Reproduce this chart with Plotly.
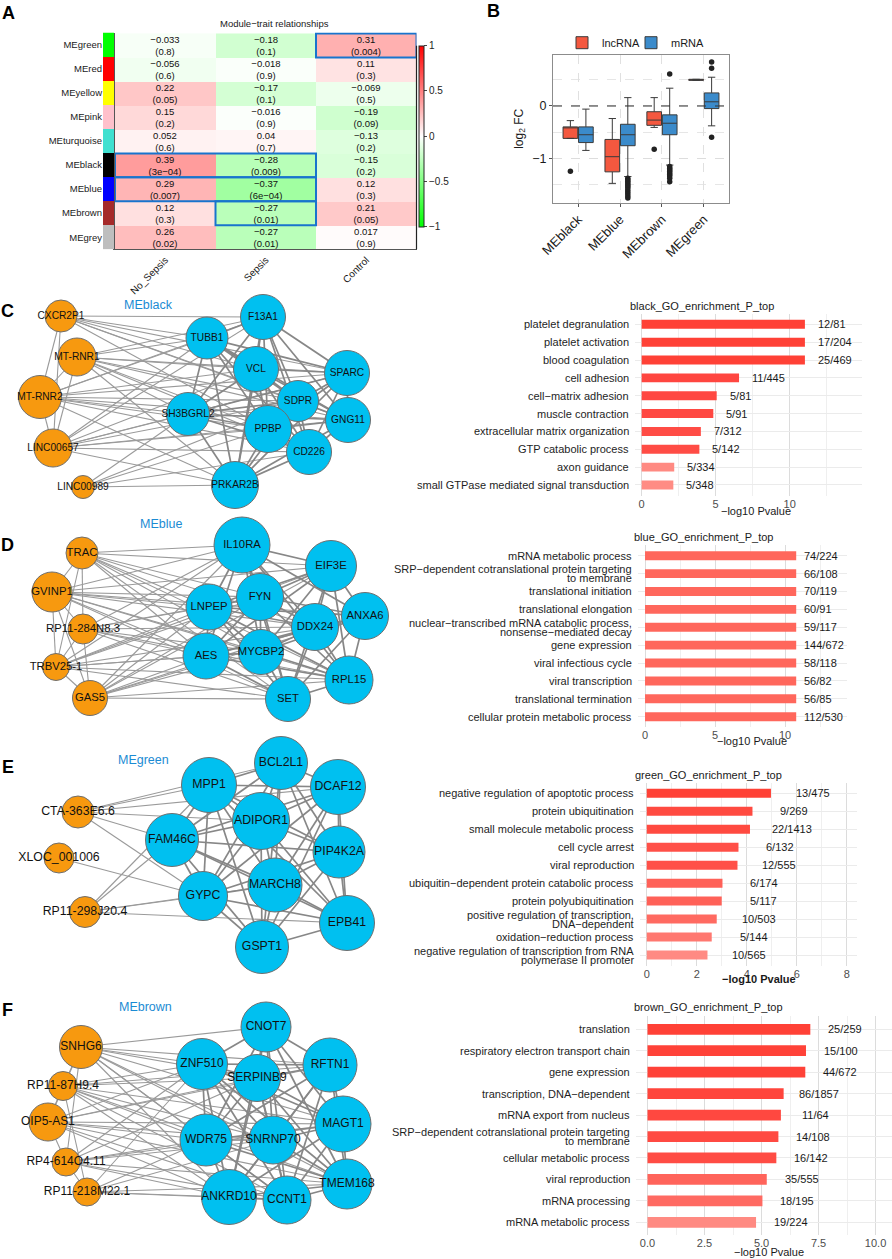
import plotly.graph_objects as go

W, H = 892, 1259
FONT = "Liberation Sans, Arial, Helvetica, sans-serif"
MINUS = "\u2212"

# ---------------- Panel A data ----------------
modules = ["MEgreen", "MEred", "MEyellow", "MEpink", "MEturquoise", "MEblack", "MEblue", "MEbrown", "MEgrey"]
module_colors = ["#00FF00", "#FF0000", "#FFFF00", "#FFC0CB", "#40E0D0", "#000000", "#0000FF", "#A52A2A", "#BEBEBE"]
traits = ["No_Sepsis", "Sepsis", "Control"]
cor_no_sepsis = [-0.033, -0.056, 0.22, 0.15, 0.052, 0.39, 0.29, 0.12, 0.26]
cor_sepsis = [-0.18, -0.018, -0.17, -0.016, 0.04, -0.28, -0.37, -0.27, -0.27]
cor_control = [0.31, 0.11, -0.069, -0.19, -0.13, -0.15, 0.12, 0.21, 0.017]
p_no_sepsis = ["0.8", "0.6", "0.05", "0.2", "0.6", "3e-04", "0.007", "0.3", "0.02"]
p_sepsis = ["0.1", "0.9", "0.1", "0.9", "0.7", "0.009", "6e-04", "0.01", "0.01"]
p_control = ["0.004", "0.3", "0.5", "0.09", "0.2", "0.2", "0.3", "0.05", "0.9"]
highlights = [("MEgreen", "Control", "Control"), ("MEblack", "No_Sepsis", "Sepsis"),
              ("MEblue", "No_Sepsis", "Sepsis"), ("MEbrown", "Sepsis", "Sepsis")]

# ---------------- Panel B data ----------------
b_modules = ["MEblack", "MEblue", "MEbrown", "MEgreen"]
lnc_q1 = [-0.62, -1.26, -0.37, 0.49]
lnc_med = [-0.41, -0.97, -0.27, 0.50]
lnc_q3 = [-0.40, -0.64, -0.11, 0.51]
lnc_lo = [-0.62, -1.48, -0.41, 0.49]
lnc_hi = [-0.28, -0.24, 0.16, 0.51]
mrna_q1 = [-0.70, -0.76, -0.55, -0.05]
mrna_med = [-0.55, -0.55, -0.33, 0.08]
mrna_q3 = [-0.40, -0.35, -0.17, 0.25]
mrna_lo = [-0.85, -1.35, -1.13, -0.38]
mrna_hi = [-0.06, 0.16, 0.34, 0.55]
lnc_outliers = {"MEblack": [-1.25], "MEbrown": [-0.83]}
mrna_outliers = {"MEblue": [-1.38, -1.41, -1.44, -1.47, -1.50, -1.53, -1.56, -1.60, -1.64, -1.68, -1.72, -1.76],
                 "MEbrown": [0.61, -1.16, -1.19, -1.22, -1.25, -1.28, -1.31, -1.34, -1.38, -1.45],
                 "MEgreen": [0.84, 0.72, -0.60]}

# ---------------- Networks (name, type, layout x, layout y, node diameter) ----------------
net_C = [("CXCR2P1", "lnc", 61, 316, 32), ("MT-RNR1", "lnc", 77, 357, 38), ("MT-RNR2", "lnc", 40, 397, 43),
         ("LINC00657", "lnc", 53, 448, 38), ("LINC00989", "lnc", 83, 487, 23),
         ("TUBB1", "m", 207, 338, 42), ("F13A1", "m", 263, 317, 45), ("VCL", "m", 256, 369, 45),
         ("SPARC", "m", 347, 373, 45), ("SDPR", "m", 298, 401, 41), ("GNG11", "m", 348, 420, 45),
         ("SH3BGRL2", "m", 188, 414, 43), ("PPBP", "m", 268, 429, 47), ("CD226", "m", 309, 452, 45),
         ("PRKAR2B", "m", 235, 485, 47)]
edges_C = {
    "CXCR2P1": "MT-RNR2 LINC00657 TUBB1 F13A1 VCL SPARC SDPR PPBP GNG11",
    "MT-RNR1": "MT-RNR2 LINC00657 TUBB1 F13A1 VCL SPARC SDPR GNG11 SH3BGRL2 PPBP CD226 PRKAR2B",
    "MT-RNR2": "LINC00657 TUBB1 F13A1 VCL SPARC SDPR GNG11 SH3BGRL2 PPBP CD226 PRKAR2B",
    "LINC00657": "TUBB1 F13A1 VCL SPARC SDPR GNG11 SH3BGRL2 PPBP CD226 PRKAR2B",
    "LINC00989": "SH3BGRL2 PPBP CD226 PRKAR2B SDPR",
    "TUBB1": "F13A1 VCL SPARC SDPR GNG11 SH3BGRL2 PPBP CD226 PRKAR2B",
    "F13A1": "VCL SPARC SDPR GNG11 SH3BGRL2 PPBP CD226 PRKAR2B",
    "VCL": "SPARC SDPR GNG11 SH3BGRL2 PPBP CD226 PRKAR2B",
    "SPARC": "SDPR GNG11 SH3BGRL2 PPBP CD226 PRKAR2B",
    "SDPR": "GNG11 SH3BGRL2 PPBP CD226 PRKAR2B",
    "GNG11": "SH3BGRL2 PPBP CD226 PRKAR2B",
    "SH3BGRL2": "PPBP CD226 PRKAR2B",
    "PPBP": "CD226 PRKAR2B",
    "CD226": "PRKAR2B",
}
net_D = [("TRAC", "lnc", 82, 553, 32), ("GVINP1", "lnc", 52, 592, 40), ("RP11-284N8.3", "lnc", 83, 629, 30),
         ("TRBV25-1", "lnc", 56, 667, 27), ("GAS5", "lnc", 90, 698, 35),
         ("IL10RA", "m", 242, 545, 56), ("EIF3E", "m", 331, 566, 51), ("LNPEP", "m", 209, 607, 46),
         ("FYN", "m", 260, 597, 47), ("DDX24", "m", 315, 627, 47), ("ANXA6", "m", 365, 616, 47),
         ("AES", "m", 206, 656, 46), ("MYCBP2", "m", 261, 652, 45), ("RPL15", "m", 349, 680, 48),
         ("SET", "m", 288, 699, 45)]
edges_D = {
    "TRAC": "GVINP1 RP11-284N8.3 TRBV25-1 IL10RA EIF3E LNPEP FYN DDX24 AES MYCBP2 RPL15 SET",
    "GVINP1": "RP11-284N8.3 TRBV25-1 GAS5 IL10RA EIF3E LNPEP FYN DDX24 ANXA6 AES MYCBP2 RPL15 SET",
    "RP11-284N8.3": "TRBV25-1 GAS5 IL10RA LNPEP FYN DDX24 AES MYCBP2 RPL15 SET",
    "TRBV25-1": "GAS5 IL10RA EIF3E LNPEP FYN DDX24 AES MYCBP2 RPL15 SET",
    "GAS5": "IL10RA EIF3E LNPEP FYN DDX24 ANXA6 AES MYCBP2 RPL15 SET",
    "IL10RA": "EIF3E LNPEP FYN DDX24 ANXA6 AES MYCBP2 RPL15 SET",
    "EIF3E": "LNPEP FYN DDX24 ANXA6 AES MYCBP2 RPL15 SET",
    "LNPEP": "FYN DDX24 ANXA6 AES MYCBP2 RPL15 SET",
    "FYN": "DDX24 ANXA6 AES MYCBP2 RPL15 SET",
    "DDX24": "ANXA6 AES MYCBP2 RPL15 SET",
    "ANXA6": "AES MYCBP2 RPL15 SET",
    "AES": "MYCBP2 RPL15 SET",
    "MYCBP2": "RPL15 SET",
    "RPL15": "SET",
}
net_E = [("CTA-363E6.6", "lnc", 78, 812, 32), ("XLOC_001006", "lnc", 59, 858, 30), ("RP11-298J20.4", "lnc", 85, 912, 31),
         ("MPP1", "m", 209, 785, 55), ("BCL2L1", "m", 281, 763, 53), ("DCAF12", "m", 338, 787, 55),
         ("ADIPOR1", "m", 261, 821, 57), ("FAM46C", "m", 172, 840, 53), ("PIP4K2A", "m", 339, 852, 52),
         ("MARCH8", "m", 275, 885, 54), ("GYPC", "m", 203, 896, 49), ("EPB41", "m", 347, 923, 55),
         ("GSPT1", "m", 262, 947, 53)]
edges_E = {
    "CTA-363E6.6": "MPP1 BCL2L1 ADIPOR1 DCAF12 FAM46C GYPC",
    "XLOC_001006": "GYPC",
    "RP11-298J20.4": "MPP1 FAM46C GYPC MARCH8 EPB41",
    "MPP1": "BCL2L1 DCAF12 ADIPOR1 FAM46C PIP4K2A MARCH8 GYPC EPB41 GSPT1",
    "BCL2L1": "DCAF12 ADIPOR1 FAM46C PIP4K2A MARCH8 GYPC EPB41 GSPT1",
    "DCAF12": "ADIPOR1 FAM46C PIP4K2A MARCH8 GYPC EPB41 GSPT1",
    "ADIPOR1": "FAM46C PIP4K2A MARCH8 GYPC EPB41 GSPT1",
    "FAM46C": "PIP4K2A MARCH8 GYPC EPB41 GSPT1",
    "PIP4K2A": "MARCH8 GYPC EPB41 GSPT1",
    "MARCH8": "GYPC EPB41 GSPT1",
    "GYPC": "EPB41 GSPT1",
    "EPB41": "GSPT1",
}
net_F = [("SNHG6", "lnc", 81, 1047, 43), ("RP11-87H9.4", "lnc", 63, 1086, 29), ("OIP5-AS1", "lnc", 48, 1122, 38),
         ("RP4-614O4.11", "lnc", 66, 1162, 28), ("RP11-218M22.1", "lnc", 87, 1192, 28),
         ("CNOT7", "m", 266, 1027, 50), ("ZNF510", "m", 202, 1064, 51), ("RFTN1", "m", 330, 1065, 54),
         ("SERPINB9", "m", 257, 1078, 47), ("MAGT1", "m", 343, 1124, 56), ("WDR75", "m", 206, 1140, 52),
         ("SNRNP70", "m", 273, 1140, 48), ("TMEM168", "m", 347, 1184, 50), ("ANKRD10", "m", 229, 1197, 55),
         ("CCNT1", "m", 287, 1200, 48)]
edges_F = {
    "SNHG6": "RP11-87H9.4 OIP5-AS1 RP4-614O4.11 CNOT7 ZNF510 RFTN1 SERPINB9 MAGT1 WDR75 SNRNP70 TMEM168 ANKRD10 CCNT1",
    "RP11-87H9.4": "OIP5-AS1 RP11-218M22.1 ZNF510 RFTN1 SERPINB9 MAGT1 WDR75 SNRNP70 TMEM168 ANKRD10 CCNT1",
    "OIP5-AS1": "RP4-614O4.11 ZNF510 RFTN1 SERPINB9 MAGT1 WDR75 SNRNP70 TMEM168 ANKRD10 CCNT1",
    "RP4-614O4.11": "RP11-218M22.1 ZNF510 SERPINB9 MAGT1 WDR75 SNRNP70 TMEM168 ANKRD10 CCNT1",
    "RP11-218M22.1": "ZNF510 WDR75 SNRNP70 TMEM168 ANKRD10 CCNT1",
    "CNOT7": "ZNF510 RFTN1 SERPINB9 MAGT1 WDR75 SNRNP70 TMEM168 ANKRD10 CCNT1",
    "ZNF510": "RFTN1 SERPINB9 MAGT1 WDR75 SNRNP70 TMEM168 ANKRD10 CCNT1",
    "RFTN1": "SERPINB9 MAGT1 WDR75 SNRNP70 TMEM168 ANKRD10 CCNT1",
    "SERPINB9": "MAGT1 WDR75 SNRNP70 TMEM168 ANKRD10 CCNT1",
    "MAGT1": "WDR75 SNRNP70 TMEM168 ANKRD10 CCNT1",
    "WDR75": "SNRNP70 TMEM168 ANKRD10 CCNT1",
    "SNRNP70": "TMEM168 ANKRD10 CCNT1",
    "TMEM168": "ANKRD10 CCNT1",
    "ANKRD10": "CCNT1",
}

# ---------------- GO bar data ----------------
go_C_terms = ["platelet degranulation", "platelet activation", "blood coagulation", "cell adhesion",
              "cell\u2212matrix adhesion", "muscle contraction", "extracellular matrix organization",
              "GTP catabolic process", "axon guidance", "small GTPase mediated signal transduction"]
go_C_vals = [11.03, 11.03, 11.03, 6.58, 5.07, 4.84, 4.00, 3.90, 2.20, 2.14]
go_C_counts = ["12/81", "17/204", "25/469", "11/445", "5/81", "5/91", "7/312", "5/142", "5/334", "5/348"]

go_D_terms = ["mRNA metabolic process", "SRP\u2212dependent cotranslational protein targeting<br>to membrane",
              "translational initiation", "translational elongation",
              "nuclear\u2212transcribed mRNA catabolic process,<br>nonsense\u2212mediated decay", "gene expression",
              "viral infectious cycle", "viral transcription", "translational termination",
              "cellular protein metabolic process"]
go_D_vals = [10.8, 10.8, 10.8, 10.8, 10.8, 10.8, 10.8, 10.8, 10.8, 10.8]
go_D_counts = ["74/224", "66/108", "70/119", "60/91", "59/117", "144/672", "58/118", "56/82", "56/85", "112/530"]

go_E_terms = ["negative regulation of apoptotic process", "protein ubiquitination", "small molecule metabolic process",
              "cell cycle arrest", "viral reproduction", "ubiquitin\u2212dependent protein catabolic process",
              "protein polyubiquitination", "positive regulation of transcription,<br>DNA\u2212dependent",
              "oxidation\u2212reduction process", "negative regulation of transcription from RNA<br>polymerase II promoter"]
go_E_vals = [4.97, 4.23, 4.13, 3.67, 3.63, 3.03, 3.00, 2.80, 2.60, 2.43]
go_E_counts = ["13/475", "9/269", "22/1413", "6/132", "12/555", "6/174", "5/117", "10/503", "5/144", "10/565"]

go_F_terms = ["translation", "respiratory electron transport chain", "gene expression", "transcription, DNA\u2212dependent",
              "mRNA export from nucleus", "SRP\u2212dependent cotranslational protein targeting<br>to membrane",
              "cellular metabolic process", "viral reproduction", "mRNA processing", "mRNA metabolic process"]
go_F_vals = [7.14, 6.95, 6.92, 5.97, 5.85, 5.74, 5.65, 5.23, 5.04, 4.76]
go_F_counts = ["25/259", "15/100", "44/672", "86/1857", "11/64", "14/108", "16/142", "35/555", "18/195", "19/224"]

# ---------------- styles ----------------
colors_C = ["#FF4136", "#FF4136", "#FF4136", "#FF4640", "#FF4842", "#FF4842", "#FF4C45", "#FF4C45", "#FF8A82", "#FF8C84"]
colors_D = ["#FF675C"] * 10
colors_E = ["#FF4136", "#FF4A40", "#FF4A40", "#FF5048", "#FF5048", "#FF6158", "#FF6158", "#FF6A61", "#FF7870", "#FF8A83"]
colors_F = ["#FF4136", "#FF4238", "#FF4238", "#FF453C", "#FF4840", "#FF4A42", "#FF4C44", "#FF645B", "#FF6A62", "#FF8A82"]
LNC_COL, MRNA_COL = "#F7990F", "#00C0F0"
TITLE_BLUE = "#1B8BD3"


def X(p):
    return p / W


def Y(p):
    return 1 - p / H


def fmt(s):
    return str(s).replace("-", MINUS)


def paper_text(text, px, py, size, color="#1A1A1A"):
    return dict(text=text, x=X(px), y=Y(py), xref="paper", yref="paper", xanchor="center", yanchor="middle",
                showarrow=False, font=dict(size=size, color=color))


fig = go.Figure()
layout = dict(width=W, height=H, autosize=False,
              margin=dict(l=0, r=0, t=0, b=0, pad=0, autoexpand=False), paper_bgcolor="white",
              plot_bgcolor="rgba(0,0,0,0)", font=dict(family=FONT, color="#1A1A1A"), showlegend=True)
annotations, shapes = [], []

# ================= Panel A =================
z = [[cor_no_sepsis[i], cor_sepsis[i], cor_control[i]] for i in range(len(modules))]
txt = [[f"{fmt(cor_no_sepsis[i])}<br>({fmt(p_no_sepsis[i])})",
        f"{fmt(cor_sepsis[i])}<br>({fmt(p_sepsis[i])})",
        f"{fmt(cor_control[i])}<br>({fmt(p_control[i])})"] for i in range(len(modules))]
fig.add_trace(go.Heatmap(
    z=z, x=traits, y=modules, text=txt, texttemplate="%{text}",
    textfont=dict(size=9.5, color="#111111", family=FONT),
    colorscale=[[0, "#00FF00"], [0.5, "#FFFFFF"], [1, "#FF0000"]], zmin=-1, zmax=1,
    xaxis="x", yaxis="y", hoverinfo="skip", showlegend=False,
    colorbar=dict(x=X(419), xanchor="left", y=Y(136.2), yanchor="middle", len=181 / H, lenmode="fraction",
                  thickness=5, outlinewidth=1, outlinecolor="#222222", xpad=0, ypad=0,
                  tickvals=[-1, -0.5, 0, 0.5, 1], ticktext=[MINUS + "1", MINUS + "0.5", "0", "0.5", "1"],
                  ticks="outside", ticklen=3, tickfont=dict(size=10, family=FONT, color="#222222"))))
layout["xaxis"] = dict(domain=[X(115), X(416.5)], anchor="y", tickangle=-45, tickfont=dict(size=10),
                       showline=True, linecolor="#555555", linewidth=1, ticks="", showgrid=False, zeroline=False,
                       range=[-0.5, 2.5])
layout["yaxis"] = dict(domain=[Y(249.3), Y(32.5)], anchor="x", autorange="reversed", showticklabels=False,
                       showline=True, linecolor="#555555", linewidth=2, showgrid=False, zeroline=False)
n = len(modules)
cs = []
for i, c in enumerate(module_colors):
    cs += [[i / n, c], [(i + 1) / n, c]]
fig.add_trace(go.Heatmap(z=[[i] for i in range(n)], x=[0], y=modules, colorscale=cs, zmin=-0.5, zmax=n - 0.5,
                         showscale=False, xaxis="x2", yaxis="y2", hoverinfo="skip", showlegend=False))
layout["xaxis2"] = dict(domain=[X(103), X(114)], anchor="y2", visible=False)
layout["yaxis2"] = dict(domain=[Y(249.3), Y(32.5)], anchor="x2", autorange="reversed", tickfont=dict(size=9.5),
                        ticks="", showgrid=False, zeroline=False, showline=False)
for mod, t0, t1 in highlights:
    r = modules.index(mod)
    shapes.append(dict(type="rect", xref="x", yref="y", x0=traits.index(t0) - 0.5, x1=traits.index(t1) + 0.5,
                       y0=r - 0.5, y1=r + 0.5, line=dict(color="#1874CD", width=2)))
shapes.append(dict(type="line", xref="paper", yref="paper", x0=X(416.5), x1=X(416.5), y0=Y(249.3), y1=Y(45.7),
                   line=dict(color="#222222", width=1.2)))
annotations.append(paper_text("Module\u2212trait relationships", 274.7, 24, 9.5))

# ================= Panel B =================
OFF, BW = 0.185, 0.35
fig.add_trace(go.Box(name="lncRNA", x=[i + 1 - OFF for i in range(4)], q1=lnc_q1, median=lnc_med, q3=lnc_q3,
                     lowerfence=lnc_lo, upperfence=lnc_hi, width=BW, fillcolor="#F4583F",
                     line=dict(color="#3A3A3A", width=1), boxpoints=False, xaxis="x3", yaxis="y3",
                     legend="legend", hoverinfo="skip"))
fig.add_trace(go.Box(name="mRNA", x=[i + 1 + OFF for i in range(4)], q1=mrna_q1, median=mrna_med, q3=mrna_q3,
                     lowerfence=mrna_lo, upperfence=mrna_hi, width=BW, fillcolor="#3B8BCB",
                     line=dict(color="#3A3A3A", width=1), boxpoints=False, xaxis="x3", yaxis="y3",
                     legend="legend2", hoverinfo="skip"))
ox, oy = [], []
for mod, vals in lnc_outliers.items():
    for v in vals:
        ox.append(b_modules.index(mod) + 1 - OFF)
        oy.append(v)
for mod, vals in mrna_outliers.items():
    for v in vals:
        ox.append(b_modules.index(mod) + 1 + OFF)
        oy.append(v)
fig.add_trace(go.Scatter(x=ox, y=oy, mode="markers", marker=dict(color="#222222", size=5.5),
                         xaxis="x3", yaxis="y3", showlegend=False, hoverinfo="skip"))
layout["xaxis3"] = dict(domain=[X(553), X(729)], anchor="y3", range=[0.4, 4.6], tickvals=[1, 2, 3, 4],
                        ticktext=b_modules, tickangle=-45, tickfont=dict(size=13, color="#1A1A1A"),
                        showgrid=True, gridcolor="#E0E0E0", griddash="dash", gridwidth=1, zeroline=False,
                        showline=True, mirror=True, linecolor="#8C8C8C", ticks="outside", ticklen=3,
                        tickcolor="#555555")
layout["yaxis3"] = dict(domain=[Y(202.7), Y(55)], anchor="x3", range=[-1.85, 0.975], tickvals=[-1, 0],
                        ticktext=[MINUS + "1", "0"], tickfont=dict(size=12.5, color="#1A1A1A"),
                        showgrid=True, gridcolor="#DDDDDD", griddash="dash", zeroline=False,
                        minor=dict(tickvals=[-1.5, -0.5, 0.5], showgrid=True, gridcolor="#E6E6E6", griddash="dash"),
                        showline=True, mirror=True, linecolor="#8C8C8C", ticks="outside", ticklen=3,
                        tickcolor="#555555",
                        title=dict(text="log<sub>2</sub> FC", font=dict(size=12), standoff=6))
shapes.append(dict(type="line", xref="x3 domain", yref="y3", x0=0, x1=1, y0=0, y1=0,
                   line=dict(color="#333333", width=1.2, dash="dash")))
legend_style = dict(orientation="h", y=Y(42.7), xanchor="left", yanchor="middle",
                    font=dict(size=11), bgcolor="rgba(0,0,0,0)", itemwidth=30)
layout["legend"] = dict(x=X(562), **legend_style)
layout["legend2"] = dict(x=X(631), **legend_style)


# ================= Networks =================
def add_network(nodes, edges, ax, top, bottom, title, title_xy, fs):
    pos = {nd[0]: (nd[2], nd[3]) for nd in nodes}
    kind = {nd[0]: nd[1] for nd in nodes}
    groups = {"thin": ([], []), "thick": ([], [])}
    for a, nbrs in edges.items():
        for b in nbrs.split():
            g = "thick" if (kind[a] == "m" and kind[b] == "m") else "thin"
            groups[g][0].extend([pos[a][0], pos[b][0], None])
            groups[g][1].extend([pos[a][1], pos[b][1], None])
    xa, ya = f"x{ax}", f"y{ax}"
    fig.add_trace(go.Scatter(x=groups["thin"][0], y=groups["thin"][1], mode="lines",
                             line=dict(color="#9A9A9A", width=1.1), xaxis=xa, yaxis=ya,
                             showlegend=False, hoverinfo="skip"))
    fig.add_trace(go.Scatter(x=groups["thick"][0], y=groups["thick"][1], mode="lines",
                             line=dict(color="#878787", width=1.7), xaxis=xa, yaxis=ya,
                             showlegend=False, hoverinfo="skip"))
    fig.add_trace(go.Scatter(
        x=[nd[2] for nd in nodes], y=[nd[3] for nd in nodes], text=[nd[0] for nd in nodes],
        mode="markers+text", textposition="middle center",
        textfont=dict(size=fs, color="#111111", family=FONT),
        marker=dict(size=[nd[4] for nd in nodes], color=[LNC_COL if nd[1] == "lnc" else MRNA_COL for nd in nodes],
                    line=dict(color="#6E6E6E", width=1), opacity=1),
        xaxis=xa, yaxis=ya, showlegend=False, hoverinfo="skip", cliponaxis=False))
    layout[f"xaxis{ax}"] = dict(domain=[0, X(420)], anchor=ya, range=[0, 420], visible=False)
    layout[f"yaxis{ax}"] = dict(domain=[Y(bottom), Y(top)], anchor=xa, range=[bottom, top], visible=False)
    annotations.append(paper_text(title, title_xy[0], title_xy[1], 12.5, TITLE_BLUE))


add_network(net_C, edges_C, 4, 296, 512, "MEblack", (148, 305), 10.2)
add_network(net_D, edges_D, 5, 512, 728, "MEblue", (161, 524), 11.3)
add_network(net_E, edges_E, 6, 728, 982, "MEgreen", (143, 760), 12.3)
add_network(net_F, edges_F, 7, 982, 1236, "MEbrown", (145, 1007), 12)


# ================= GO bar charts =================
def add_bars(ax, terms, vals, counts, colors, title, xdom, ydom, xrange, tickvals, ticktext, minor_vals,
             title_xy, xtitle_xy, lab_anchor, lab_shift, bold_title=False):
    xa, ya = f"x{ax}", f"y{ax}"
    fig.add_trace(go.Bar(y=terms, x=vals, orientation="h", marker=dict(color=colors, line=dict(width=0)),
                         width=0.5, xaxis=xa, yaxis=ya, showlegend=False, hoverinfo="skip"))
    nterm = len(terms)
    layout[f"xaxis{ax}"] = dict(domain=[X(xdom[0]), X(xdom[1])], anchor=ya, range=xrange, tickvals=tickvals,
                                ticktext=ticktext, tickfont=dict(size=11, color="#4D4D4D"), ticks="",
                                showgrid=True, gridcolor="#DCDCDC", gridwidth=1, zeroline=False, showline=False,
                                minor=dict(tickvals=minor_vals, showgrid=True, gridcolor="#EFEFEF"))
    layout[f"yaxis{ax}"] = dict(domain=[Y(ydom[1]), Y(ydom[0])], anchor=xa, range=[nterm - 1 + 0.6, -0.6],
                                type="category", categoryorder="array", categoryarray=terms,
                                showticklabels=False, ticks="", showgrid=True,
                                gridcolor="#EBEBEB", zeroline=False, showline=False)
    # category labels (tightly spaced when wrapped onto two lines, as in the original)
    for t in terms:
        parts = t.split("<br>")
        shifts = [0] if len(parts) == 1 else [4.5, -4.5]
        for ptxt, sh in zip(parts, shifts):
            annotations.append(dict(text=ptxt, x=0, y=t, xref=f"{xa} domain", yref=ya, xanchor="right",
                                    yanchor="middle", xshift=-4, yshift=sh, showarrow=False,
                                    font=dict(size=11, color="#1E1E1E")))
    for t, v, c in zip(terms, vals, counts):
        annotations.append(dict(text=c, x=v, y=t, xref=xa, yref=ya, xanchor=lab_anchor, yanchor="middle",
                                xshift=lab_shift, showarrow=False, font=dict(size=11, color="#1A1A1A")))
    annotations.append(paper_text(title, title_xy[0], title_xy[1], 11))
    xt = "<b>\u2212log10 Pvalue</b>" if bold_title else "\u2212log10 Pvalue"
    annotations.append(paper_text(xt, xtitle_xy[0], xtitle_xy[1], 11))


add_bars(8, go_C_terms, go_C_vals, go_C_counts, colors_C, "black_GO_enrichment_P_top",
         (635, 861.6), (313.6, 495.7), [-0.45, 14.86], [0, 5, 10], ["0", "5", "10"], [2.5, 7.5, 12.5],
         (701.7, 306), (756, 510.5), "left", 11)
add_bars(9, go_D_terms, go_D_vals, go_D_counts, colors_D, "blue_GO_enrichment_P_top",
         (638.3, 846.6), (545, 727.4), [-0.48, 14.4], [0, 5, 10], ["0", "5", "10"], [2.5, 7.5, 12.5],
         (703.7, 537), (752, 741), "left", 6)
add_bars(10, go_E_terms, go_E_vals, go_E_counts, colors_E, "green_GO_enrichment_P_top",
         (640, 856.7), (782.5, 965.8), [-0.27, 8.4], [0, 2, 4, 6, 8], ["0", "2", "4", "6", "8"], [1, 3, 5, 7],
         (708.3, 775), (758.8, 978.5), "center", 42, bold_title=True)
add_bars(11, go_F_terms, go_F_vals, go_F_counts, colors_F, "brown_GO_enrichment_P_top",
         (636.1, 891.5), (1016.4, 1235.2), [-0.5, 10.7], [0, 2.5, 5, 7.5, 10], ["0.0", "2.5", "5.0", "7.5", "10.0"],
         [1.25, 3.75, 6.25, 8.75], (708.7, 1007.3), (769, 1252), "center", 35)

# ================= Panel letters =================
for lab, (lx, ly) in {"A": (8.5, 12.5), "B": (493, 11), "C": (7.5, 311), "D": (7.5, 545), "E": (7.5, 767),
                      "F": (7.5, 1010)}.items():
    annotations.append(paper_text(f"<b>{lab}</b>", lx, ly, 18, "#000000"))

layout["annotations"] = annotations
layout["shapes"] = shapes
layout["boxmode"] = "overlay"
fig.update_layout(**layout)
fig.write_html("out.html", config={"displayModeBar": False},
               post_script="document.body.style.margin='0px';")
